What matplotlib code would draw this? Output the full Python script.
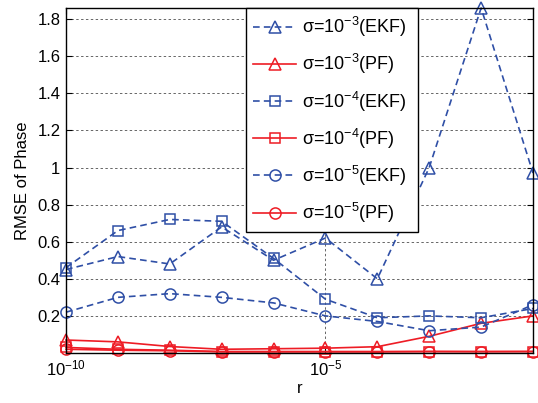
import numpy as np
import matplotlib
matplotlib.use('Agg')
import matplotlib.pyplot as plt

plt.rcParams.update({
    'font.family': ['Liberation Sans', 'DejaVu Sans'],
    'font.size': 12,
    'mathtext.default': 'regular',
    'axes.linewidth': 1.0,
})

# r values (one point per decade)
r = [1e-10, 1e-9, 1e-8, 1e-7, 1e-6, 1e-5, 1e-4, 1e-3, 1e-2, 1e-1]

# RMSE of phase
ekf_s3 = [0.45, 0.52, 0.48, 0.68, 0.50, 0.62, 0.40, 1.00, 1.86, 0.97]
pf_s3 = [0.070, 0.060, 0.035, 0.020, 0.023, 0.026, 0.034, 0.090, 0.160, 0.200]
ekf_s4 = [0.46, 0.66, 0.72, 0.71, 0.51, 0.29, 0.19, 0.20, 0.19, 0.24]
pf_s4 = [0.030, 0.020, 0.015, 0.008, 0.008, 0.008, 0.008, 0.008, 0.008, 0.008]
ekf_s5 = [0.22, 0.30, 0.32, 0.30, 0.27, 0.20, 0.17, 0.12, 0.14, 0.26]
pf_s5 = [0.020, 0.015, 0.012, 0.006, 0.006, 0.006, 0.006, 0.008, 0.007, 0.008]

labels = ['σ=10$^{-3}$(EKF)', 'σ=10$^{-3}$(PF)',
          'σ=10$^{-4}$(EKF)', 'σ=10$^{-4}$(PF)',
          'σ=10$^{-5}$(EKF)', 'σ=10$^{-5}$(PF)']

blue = '#2f4fa6'
red = '#ee1c25'
dash = (0, (4, 2.5))

fig = plt.figure(figsize=(5.38, 4.03), dpi=100)
ax = fig.add_axes([66 / 538, 1 - 353 / 403, 467 / 538, 345 / 403])

series = [
    (ekf_s3, blue, dash, '^'),
    (pf_s3, red, '-', '^'),
    (ekf_s4, blue, dash, 's'),
    (pf_s4, red, '-', 's'),
    (ekf_s5, blue, dash, 'o'),
    (pf_s5, red, '-', 'o'),
]
for (vals, col, ls, mk), lab in zip(series, labels):
    ms = 8 if mk != 's' else 7
    ax.plot(r, vals, color=col, linestyle=ls, linewidth=1.2, marker=mk,
            markersize=ms, markerfacecolor='none', markeredgecolor=col,
            markeredgewidth=1.1, label=lab, clip_on=False)

ax.set_xscale('log')
ax.set_xlim(1e-10, 1e-1)
ax.set_ylim(0, 1.86)
ax.set_xticks([1e-10, 1e-5])
ax.xaxis.set_minor_locator(matplotlib.ticker.NullLocator())
ax.set_yticks([0.2, 0.4, 0.6, 0.8, 1.0, 1.2, 1.4, 1.6, 1.8])
ax.set_yticklabels(['0.2', '0.4', '0.6', '0.8', '1', '1.2', '1.4', '1.6', '1.8'])
ax.tick_params(direction='in', length=4, width=0.8, top=True, right=True,
               labelsize=12, pad=4)

ax.grid(True, which='major', color='#666666', linestyle=(0, (2.5, 2.5)),
        linewidth=0.7)

ax.set_xlabel('r', fontsize=12, labelpad=2)
ax.set_ylabel('RMSE of Phase', fontsize=12, labelpad=5)

leg = ax.legend(loc='upper left', bbox_to_anchor=(0.385, 0, 0.368, 1.0),
                mode='expand', borderaxespad=0,
                frameon=True, fancybox=False, framealpha=1, edgecolor='black',
                fontsize=13, handlelength=2.4, labelspacing=0.72,
                handletextpad=0.3, borderpad=0.4)
leg.get_frame().set_linewidth(1.0)

fig.savefig('out.png', dpi=100)
